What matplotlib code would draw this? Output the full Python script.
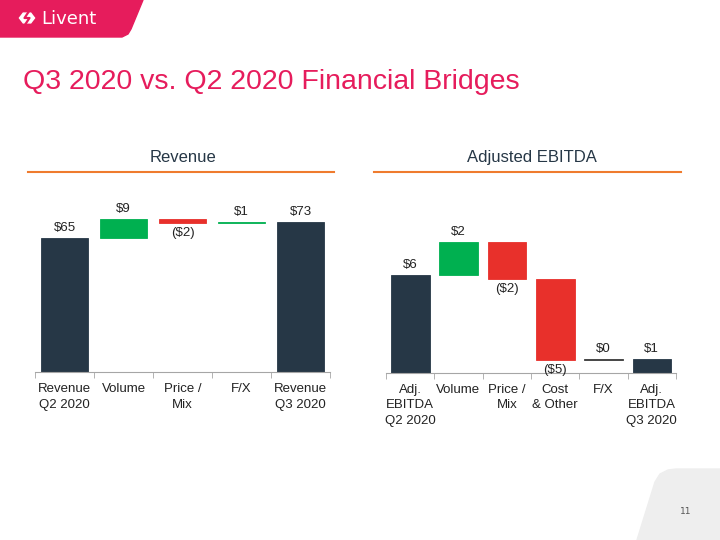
import numpy as np
import matplotlib.pyplot as plt
from matplotlib.patches import Polygon, RegularPolygon
from matplotlib.lines import Line2D

# data
rev_labels = ["Revenue\nQ2 2020", "Volume", "Price /\nMix", "F/X", "Revenue\nQ3 2020"]
rev_values = [64.9, 9.2, -1.9, 0.6, 72.8]
rev_text = ["$65", "$9", "($2)", "$1", "$73"]
rev_kind = ["total", "delta", "delta", "delta", "total"]

ebitda_labels = ["Adj.\nEBITDA\nQ2 2020", "Volume", "Price /\nMix", "Cost\n& Other", "F/X", "Adj.\nEBITDA\nQ3 2020"]
ebitda_values = [6.0, 2.0, -2.25, -4.95, 0.05, 0.85]
ebitda_text = ["$6", "$2", "($2)", "($5)", "$0", "$1"]
ebitda_kind = ["total", "delta", "delta", "delta", "zero", "total"]

NAVY = "#263746"
GREEN = "#00B050"
RED = "#E8302B"
PINK = "#E61C5C"
ORANGE = "#EF7B2E"
FONT = ["Liberation Sans", "DejaVu Sans"]

W, H = 720, 540
fig = plt.figure(figsize=(7.2, 5.4), dpi=100)


def fx(px):
    return px / W


def fy(py):
    return 1 - py / H


def waterfall(ax, labels, values, texts, kinds, ymax):
    x = np.arange(len(values))
    running = 0.0
    for i, (v, t, k) in enumerate(zip(values, texts, kinds)):
        if k == "total":
            bottom, height, color = 0, v, NAVY
            running = v
        elif k == "zero":
            bottom, height, color = running, v, "#3A3A3A"
            running += v
        else:
            if v >= 0:
                bottom, height, color = running, v, GREEN
            else:
                bottom, height, color = running + v, -v, RED
            running += v
        ax.bar(i, height, bottom=bottom, width=0.8, color=color,
               edgecolor=color, linewidth=0.6)
        if v < 0:
            ax.annotate(t, (i, bottom), xytext=(0, -3), textcoords="offset points",
                        ha="center", va="top", fontsize=9.5, family=FONT, color="#222222")
        else:
            ax.annotate(t, (i, bottom + height), xytext=(0, 3), textcoords="offset points",
                        ha="center", va="bottom", fontsize=9.5, family=FONT, color="#222222")
    ax.set_xlim(-0.5, len(values) - 0.5)
    ax.set_ylim(0, ymax)
    ax.set_yticks([])
    for s in ["top", "right", "left"]:
        ax.spines[s].set_visible(False)
    ax.spines["bottom"].set_color("#A6A6A6")
    ax.set_xticks(x)
    ax.set_xticklabels(labels, fontsize=9.5, family=FONT, color="#222222", linespacing=1.4)
    ax.tick_params(axis="x", which="major", length=0, pad=8)
    ax.set_xticks(np.arange(len(values) + 1) - 0.5, minor=True)
    ax.tick_params(axis="x", which="minor", length=4, color="#A6A6A6")
    ax.patch.set_alpha(0)


ax1 = fig.add_axes([fx(35), fy(372), fx(295), 165 / H])
waterfall(ax1, rev_labels, rev_values, rev_text, rev_kind, 80)

ax2 = fig.add_axes([fx(386), fy(372.7), fx(290), 146.7 / H])
waterfall(ax2, ebitda_labels, ebitda_values, ebitda_text, ebitda_kind, 9)

# header banner
banner = [(0, 0), (143, 0), (131, 29), (128, 34), (122, 37), (0, 37)]
fig.patches.append(Polygon([(fx(a), fy(b)) for a, b in banner], closed=True,
                           transform=fig.transFigure, color=PINK, zorder=0))
fig.patches.append(RegularPolygon((fx(27), fy(18)), numVertices=6, radius=0.0105,
                                  orientation=np.pi / 2, transform=fig.transFigure,
                                  color="white", zorder=1))
fig.lines.append(Line2D([fx(28.5), fx(24.5), fx(29.5), fx(25.5)], [fy(12), fy(18), fy(18), fy(24)],
                        transform=fig.transFigure, color=PINK, linewidth=1.6, zorder=2))
fig.text(fx(41), fy(18.5), "Livent", color="white", fontsize=13, family="DejaVu Sans",
         ha="left", va="center")

# bottom right shape
corner = [(637, 540), (655, 482), (660, 474), (668, 470), (676, 469), (720, 469), (720, 540)]
fig.patches.append(Polygon([(fx(a), fy(b)) for a, b in corner], closed=True,
                           transform=fig.transFigure, color="#EEEEEE", zorder=0))
fig.text(fx(686), fy(512), "11", fontsize=6.5, color="#555555", ha="center", va="center")

# titles
fig.text(fx(23), fy(82), "Q3 2020 vs. Q2 2020 Financial Bridges", color=PINK,
         fontsize=20.5, family=FONT, ha="left", va="center")
fig.text(fx(183), fy(158), "Revenue", color="#263746", fontsize=12, family=FONT,
         ha="center", va="center")
fig.text(fx(532), fy(158), "Adjusted EBITDA", color="#263746", fontsize=12, family=FONT,
         ha="center", va="center")
fig.lines.append(Line2D([fx(28), fx(334)], [fy(172), fy(172)], transform=fig.transFigure,
                        color=ORANGE, linewidth=1.5))
fig.lines.append(Line2D([fx(374), fx(681)], [fy(172), fy(172)], transform=fig.transFigure,
                        color=ORANGE, linewidth=1.5))

fig.savefig("out.png", dpi=100)
